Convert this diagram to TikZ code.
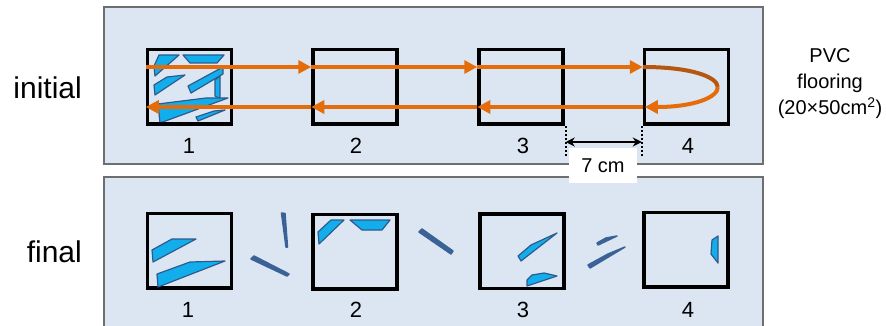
\documentclass[tikz,border=0pt]{standalone}
\usepackage{fontspec}
\setmainfont{Liberation Sans}
\usetikzlibrary{arrows.meta}

\definecolor{panelfill}{HTML}{DCE6F2}
\definecolor{paneledge}{HTML}{6E6E6E}
\definecolor{route}{HTML}{E46C0A}
\definecolor{routedark}{HTML}{B5570E}
\definecolor{chipfill}{HTML}{12AEEB}
\definecolor{chipedge}{HTML}{2F5A8E}
\definecolor{looseblue}{HTML}{3A6296}

\begin{document}
\begin{tikzpicture}[x=1pt,y=-1pt,
  panel/.style={fill=panelfill, draw=paneledge, line width=1.5pt},
  tile/.style={draw=black, line width=3.5pt, minimum width=84pt, minimum height=74.5pt, inner sep=0pt},
  num/.style={font=\fontsize{22}{26}\selectfont, inner sep=0pt},
  rowlabel/.style={font=\fontsize{30}{34}\selectfont, inner sep=0pt, anchor=east},
  routeline/.style={draw=route, line width=4pt, -{Triangle[length=13pt,width=13pt]}},
  chip/.style={fill=chipfill, draw=chipedge, line width=1.2pt, line join=round},
  loose/.style={fill=looseblue, draw=looseblue, line width=1.5pt, line join=round},
  gapmark/.style={draw=black, line width=2pt, dash pattern=on 2pt off 2pt}
]
\useasboundingbox (0,0) rectangle (886,326);

% background panels
\draw[panel] (104,7) rectangle (763,164);
\draw[panel] (104,177) rectangle (763,332);

% row labels
\node[rowlabel] (lblinit) at (82,88) {initial};
\node[rowlabel] (lblfinal) at (82,252) {final};

% material description
\node[font=\fontsize{20}{26}\selectfont, align=center, inner sep=0pt] (pvc) at (830,84)
  {PVC\\flooring\\(20×50cm\textsuperscript{2})};

% ---------- initial state: fragments in tile 1 ----------
\draw[chip] (159,55) -- (179,55) -- (155,76) -- (154,66) -- cycle;
\draw[chip] (183,55) -- (224,55) -- (217,63) -- (190,63) -- cycle;
\draw[chip] (154,85) -- (167,77) -- (185,75) -- (155,95) -- cycle;
\draw[chip] (188,86) -- (223,67) -- (223,74) -- (191,93) -- cycle;
\draw[chip] (215,80) -- (220,76) -- (220,99) -- (215,96) -- cycle;
\draw[chip] (158,104) -- (206,98) -- (228,98) -- (160,123) -- cycle;
\draw[chip] (196,117) -- (214,111) -- (225,110) -- (198,121) -- cycle;

% initial tiles
\node[tile] (i1) at (189.5,87) {};
\node[tile] (i2) at (355,87) {};
\node[tile] (i3) at (521,87) {};
\node[tile] (i4) at (686.5,87) {};
\node[num] (ni1) at (189,146) {1};
\node[num] (ni2) at (356,146) {2};
\node[num] (ni3) at (523,146) {3};
\node[num] (ni4) at (688,146) {4};

% wiping route: forward pass
\draw[routeline] ([yshift=20pt]i1.west) -- ([yshift=20pt]i2.west);
\draw[routeline] ([yshift=20pt]i2.west) -- ([yshift=20pt]i3.west);
\draw[routeline] ([yshift=20pt]i3.west) -- ([yshift=20pt]i4.west);
% turn-around at tile 4
\coordinate (turn) at (717.75,87);
\draw[draw=routedark, line width=4pt] ([yshift=20pt]i4.west) .. controls +(49,0) and (717.25,77) .. (turn);
\draw[routeline] (turn) .. controls (718.25,97) and (694.5,107) .. ([xshift=2pt,yshift=-20pt]i4.west);
% return pass
\draw[routeline] ([yshift=-20pt]i4.west) -- ([yshift=-20pt]i3.west);
\draw[routeline] ([yshift=-20pt]i3.west) -- ([yshift=-20pt]i2.west);
\draw[routeline] ([yshift=-20pt]i2.west) -- ([yshift=-20pt]i1.west);

% tile spacing
\draw[gapmark] ([xshift=1pt]i3.south east) -- +(0,31);
\draw[gapmark] ([xshift=-1pt]i4.south west) -- +(0,31);
\coordinate (g1) at ([xshift=1pt,yshift=-16pt]i3.south east);
\coordinate (g2) at ([xshift=-1pt,yshift=-16pt]i4.south west);
\draw[line width=2pt, {Stealth[length=9pt,width=9pt]}-{Stealth[length=9pt,width=9pt]}] (g1) -- (g2);
\node[fill=white, minimum width=68pt, minimum height=35pt, inner sep=0pt,
  font=\fontsize{20}{24}\selectfont] (gap) at (603,165.5) {7 cm};

% ---------- final state ----------
\node[tile] (f1) at (189.5,250.5) {};
\node[tile] (f2) at (355,251.5) {};
\node[tile] (f3) at (522,251) {};
\node[tile] (f4) at (686,249.5) {};
\node[num] (nf1) at (188,310) {1};
\node[num] (nf2) at (356,310) {2};
\node[num] (nf3) at (523,310) {3};
\node[num] (nf4) at (688,310) {4};

% fragments left on the tiles
\draw[chip] (152,250) -- (172,239) -- (196,239) -- (153,262) -- cycle;
\draw[chip] (157,274) -- (190,262) -- (225,261) -- (158,287) -- cycle;
\draw[chip] (318,232) -- (331,220) -- (344,220) -- (319,244) -- cycle;
\draw[chip] (350,220) -- (390,220) -- (382,230) -- (362,230) -- cycle;
\draw[chip] (518,256) -- (531,245) -- (557,233) -- (521,261) -- cycle;
\draw[chip] (527,280) -- (532,275) -- (544,273) -- (557,276) -- (527,286) -- cycle;
\draw[chip] (712,240) -- (718,236) -- (718,263) -- (711,254) -- cycle;

% fragments moved off the tiles
\draw[loose] (281.5,213) -- (285,213.5) -- (287.5,247) -- (286,247) -- cycle;
\draw[loose] (251,259) -- (254,256) -- (289,274) -- (287,276) -- cycle;
\draw[loose] (419,232) -- (422,229) -- (453,251) -- (451,254) -- cycle;
\draw[loose] (597,243) -- (606,238) -- (617,236) -- (598,245) -- cycle;
\draw[loose] (588,265) -- (608,254) -- (625,247) -- (590,268) -- cycle;
\end{tikzpicture}
\end{document}
